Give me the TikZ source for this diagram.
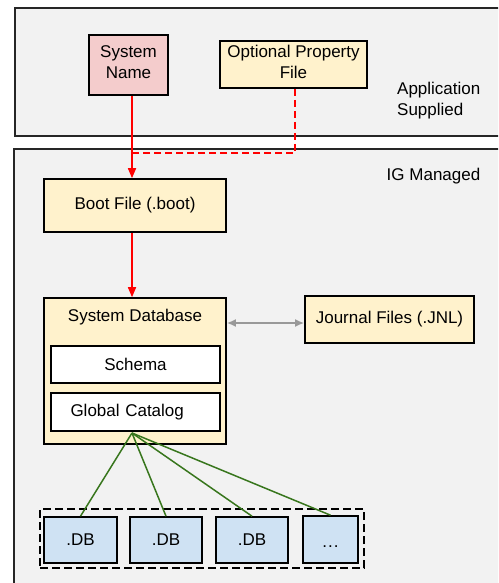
\documentclass[tikz,border=0pt]{standalone}
\usepackage{fontspec}
\setmainfont{Liberation Sans}
\usetikzlibrary{
  arrows.meta,
  positioning
}
\definecolor{PanelGray}{HTML}{F2F2F2}
\definecolor{SoftRose}{HTML}{F4CCCC}
\definecolor{PaleAmber}{HTML}{FFF2CC}
\definecolor{PaleBlue}{HTML}{CFE2F3}
\definecolor{LeafGreen}{HTML}{38761D}
\definecolor{LinkGray}{HTML}{999999}
\tikzset{
  % Grey layer panel
  panel/.style={draw=black!85, fill=PanelGray, line width=1.5pt},
  % Component box: fill colour as argument
  comp/.style={
    rectangle, draw=black, fill=#1,
    line width=1.6pt, inner sep=0pt,
    align=center, font=\fontsize{17}{21}\selectfont
  },
  % Free text
  txt/.style={font=\fontsize{17}{21}\selectfont, inner sep=0pt},
  % Boot path arrow
  bootarr/.style={
    -{Triangle[length=10pt,width=8pt]},
    line width=1.6pt, color=red
  },
  % Optional path
  optline/.style={dashed, dash pattern=on 7pt off 4pt, line width=1.8pt, color=red},
  % Two-way link
  syncarr/.style={
    {Latex[length=9pt,width=8pt]}-{Latex[length=9pt,width=8pt]},
    line width=1.8pt, color=LinkGray
  },
  % Fan-out line
  fan/.style={line width=1.5pt, color=LeafGreen},
  % Dashed group outline
  grp/.style={
    rectangle, draw=black, line width=1.6pt,
    dashed, dash pattern=on 8pt off 4pt,
    minimum width=324pt, minimum height=59pt
  }
}

\begin{document}
\begin{tikzpicture}[x=1pt, y=-1pt]
  \useasboundingbox (0,0) rectangle (498,583);
  \clip (0,0) rectangle (498,583);

  % Layers
  \draw[panel] (15,8) rectangle (512,136);
  \draw[panel] (14,149) rectangle (512,600);
  \node[txt, anchor=west, align=left] (appsup) at (397,101) {Application\\Supplied};
  \node[txt] (igman) at (433.5,176) {IG Managed};

  % Application supplied inputs
  \node[comp=SoftRose,  minimum width=79pt,  minimum height=60pt] (sysname) at (128.5,65) {System\\Name\\[-15pt]};
  \node[comp=PaleAmber, minimum width=147pt, minimum height=47pt] (optprop) at (293.5,64.5) {Optional Property\\File\\[-15pt]};

  % IG managed files
  \node[comp=PaleAmber, minimum width=182pt, minimum height=53pt] (bootf) at (135,205.5) {Boot File (.boot)};
  \node[comp=PaleAmber, minimum width=182pt, minimum height=146pt,
        label={[txt, anchor=center, yshift=-20pt]north:System Database}] (sysdb) at (135,371) {};
  \node[comp=white, minimum width=169pt, minimum height=37pt] (schema) at (135.5,364.5) {Schema};
  \node[comp=white, minimum width=169pt, minimum height=38pt, text width=160pt, align=left] (gcat) at (135.5,412) {\hspace*{15pt}Global Catalog};
  \node[comp=PaleAmber, minimum width=169pt, minimum height=47pt] (journal) at (389.5,319.5) {Journal Files (.JNL)};

  % Database files
  \node[grp] (dbgroup) at (202,538.5) {};
  \node[comp=PaleBlue, minimum width=73pt, minimum height=46pt] (db1) at (80.5,540) {.DB};
  \node[comp=PaleBlue, minimum width=72pt, minimum height=46pt] (db2) at (166,540) {.DB};
  \node[comp=PaleBlue, minimum width=72pt, minimum height=46pt] (db3) at (252,540) {.DB};
  \node[comp=PaleBlue, minimum width=55pt, minimum height=47pt, text height=16pt, text depth=0pt] (db4) at (330.5,539.5) {.\kern1pt.\kern1pt.};

  % Connectors
  \coordinate (spine) at (132,153);
  \coordinate (hub) at (132,433);
  \draw[optline] ([xshift=1.5pt]optprop.south) |- (spine);
  \draw[bootarr] (sysname.south -| spine) -- (bootf.north -| spine);
  \draw[bootarr] (bootf.south -| spine) -- (sysdb.north -| spine);
  \draw[syncarr] ([yshift=-3.5pt]journal.west -| sysdb.east) -- ([yshift=-3.5pt]journal.west);
  \foreach \d in {db1,db2,db3,db4}
    \draw[fan] (hub) -- (\d.north);
\end{tikzpicture}
\end{document}
